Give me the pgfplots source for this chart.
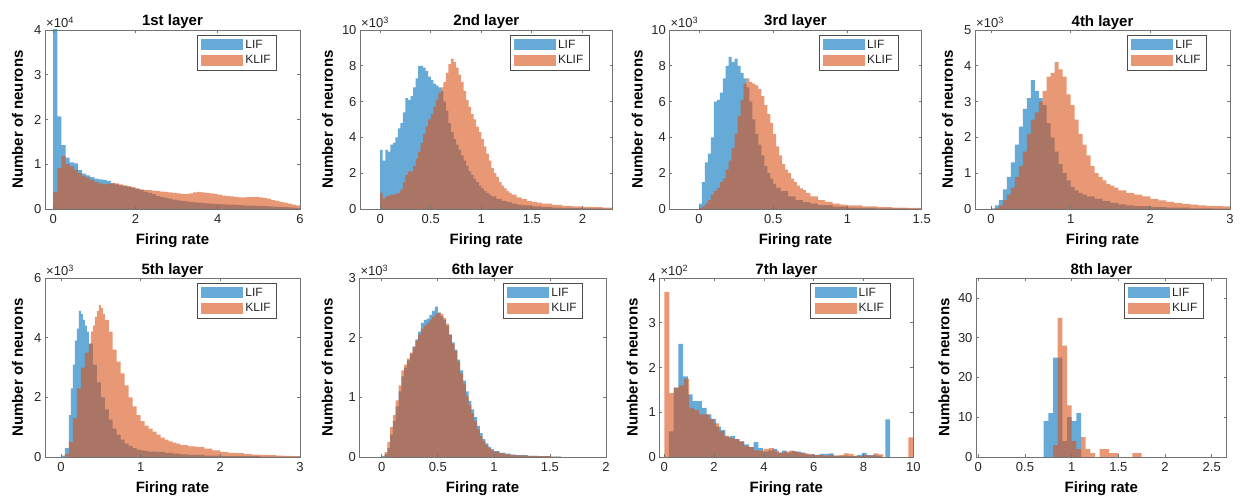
\documentclass[border=0pt]{standalone}
\usepackage{pgfplots}
\pgfplotsset{compat=1.18}
\usepackage{fontspec}
\setmainfont{Liberation Sans}
\definecolor{mblue}{rgb}{0,0.447,0.741}
\definecolor{morange}{rgb}{0.85,0.325,0.098}
\definecolor{axgray}{gray}{0.45}
\definecolor{txtgray}{gray}{0.15}
\pgfplotsset{
 hist/.style={
  scale only axis, axis on top, height=179pt,
  tick align=inside, major tick length=3pt,
  axis line style={axgray, line width=0.7pt},
  every tick/.append style={axgray, line width=0.7pt},
  tick label style={font=\fontsize{13}{15}\selectfont, text=txtgray},
  xticklabel style={yshift=-2pt},
  /pgf/number format/assume math mode=true,
  scaled x ticks=false, scaled y ticks=false,
  every axis title shift=0pt,
  title style={font=\bfseries\fontsize{15}{18}\selectfont, at={(axis description cs:0.5,1)}, anchor=base, yshift=4pt},
  xlabel style={font=\bfseries\fontsize{15}{18}\selectfont, at={(axis description cs:0.5,0)}, anchor=center, yshift=-32pt},
  ylabel style={font=\bfseries\fontsize{15}{18}\selectfont, anchor=center},
  xlabel={Firing rate}, ylabel={Number of neurons},
  legend style={at={(1,1)}, anchor=north east, xshift=-23pt, yshift=-5pt, draw=black!70, line width=0.6pt, font=\fontsize{12}{14}\selectfont, text=txtgray, inner xsep=4pt, inner ysep=2.5pt, row sep=2pt, fill=white},
  legend cell align=left,
  legend image code/.code={\fill[##1] (0pt,-5.5pt) rectangle (42pt,5.5pt);},
 },
 lif/.style={const plot, fill=mblue, fill opacity=0.6, draw=none},
 klif/.style={const plot, fill=morange, fill opacity=0.6, draw=none},
}
\tikzset{sc/.style={anchor=south west, inner sep=0pt, xshift=1pt, yshift=2pt, font=\fontsize{13}{15}\selectfont, text=txtgray}}
\begin{document}
\begin{tikzpicture}
\path[use as bounding box] (0,0) rectangle (1240pt,501pt);
% ---------- 1st layer
\begin{axis}[hist, name=p1, at={(45pt,292pt)}, anchor=south west, width=255pt,
 xmin=-0.2, xmax=6, ymin=0, ymax=40000, xtick={0,2,4,6},
 ytick={0,10000,20000,30000,40000}, yticklabels={0,1,2,3,4},
 title={1st layer}, ylabel style={at={(axis description cs:-0.108,0.5)}}]
\addplot[lif] coordinates {(0,60000)(0.1,20700)(0.2,14300)(0.3,11500)(0.4,10400)(0.5,10200)(0.6,8700)(0.7,7900)(0.8,7500)(0.9,7100)(1.0,6800)(1.1,6600)(1.2,6500)(1.3,6300)(1.4,5700)(1.5,5500)(1.6,5300)(1.7,5100)(1.8,4900)(1.9,4700)(2.0,4500)(2.1,4200)(2.2,3900)(2.3,3600)(2.4,3300)(2.5,2900)(2.6,2700)(2.7,2500)(2.8,2300)(2.9,2100)(3.0,1900)(3.1,1800)(3.2,1700)(3.3,1600)(3.4,1500)(3.5,1400)(3.6,1300)(3.7,1250)(3.8,1200)(3.9,1150)(4.0,1100)(4.1,1050)(4.2,1000)(4.3,950)(4.4,900)(4.5,850)(4.6,800)(4.7,780)(4.8,750)(4.9,720)(5.0,700)(5.1,650)(5.2,600)(5.3,550)(5.4,500)(5.5,450)(5.6,400)(5.7,350)(5.8,300)(5.9,250)(6.0,0)} \closedcycle;
\addplot[klif] coordinates {(0,3800)(0.1,9200)(0.2,11800)(0.3,10000)(0.4,9500)(0.5,8800)(0.6,8000)(0.7,7400)(0.8,7000)(0.9,6500)(1.0,6000)(1.1,5700)(1.2,5500)(1.3,5600)(1.4,5800)(1.5,5700)(1.6,5500)(1.7,5300)(1.8,5100)(1.9,4900)(2.0,4600)(2.1,4400)(2.2,4300)(2.3,4200)(2.4,4100)(2.5,4000)(2.6,3900)(2.7,3800)(2.8,3700)(2.9,3600)(3.0,3500)(3.1,3400)(3.2,3400)(3.3,3500)(3.4,3700)(3.5,3800)(3.6,3700)(3.7,3600)(3.8,3500)(3.9,3400)(4.0,3200)(4.1,3000)(4.2,2900)(4.3,2800)(4.4,2700)(4.5,2600)(4.6,2600)(4.7,2700)(4.8,2700)(4.9,2700)(5.0,2600)(5.1,2500)(5.2,2300)(5.3,2000)(5.4,1800)(5.5,1600)(5.6,1400)(5.7,1200)(5.8,1000)(5.9,800)(6.0,0)} \closedcycle;
\legend{LIF,KLIF}
\end{axis}
\node[sc] at (p1.north west) {×10\textsuperscript{4}};
% ---------- 2nd layer
\begin{axis}[hist, name=p2, at={(360pt,292pt)}, anchor=south west, width=252.7pt,
 xmin=-0.2, xmax=2.3, ymin=0, ymax=10000, xtick={0,0.5,1,1.5,2},
 ytick={0,2000,4000,6000,8000,10000}, yticklabels={0,2,4,6,8,10},
 title={2nd layer}, ylabel style={at={(axis description cs:-0.1286,0.5)}}]
\addplot[lif] coordinates {(0,3300)(0.025,2700)(0.05,3300)(0.075,3200)(0.1,3600)(0.125,3700)(0.15,4000)(0.175,4500)(0.2,4800)(0.225,5400)(0.25,6200)(0.275,6100)(0.3,6300)(0.325,6800)(0.35,7300)(0.375,8000)(0.4,8000)(0.425,7900)(0.45,7700)(0.475,7400)(0.5,7200)(0.525,7000)(0.55,6900)(0.575,6800)(0.6,6600)(0.625,6000)(0.65,5500)(0.675,4800)(0.7,4300)(0.725,3900)(0.75,3600)(0.775,3300)(0.8,3000)(0.825,2700)(0.85,2400)(0.875,2100)(0.9,1900)(0.925,1700)(0.95,1500)(0.975,1300)(1.0,1150)(1.025,1000)(1.05,900)(1.075,800)(1.1,700)(1.15,550)(1.2,450)(1.25,380)(1.3,300)(1.35,250)(1.4,200)(1.5,150)(1.6,110)(1.7,80)(1.8,60)(1.9,50)(2.0,40)(2.1,30)(2.2,20)(2.3,0)} \closedcycle;
\addplot[klif] coordinates {(0,900)(0.025,600)(0.05,700)(0.075,750)(0.1,800)(0.125,800)(0.15,850)(0.175,900)(0.2,1100)(0.225,1500)(0.25,1900)(0.275,2100)(0.3,2100)(0.325,2400)(0.35,2800)(0.375,3200)(0.4,3700)(0.425,4200)(0.45,4600)(0.475,5000)(0.5,5300)(0.525,5700)(0.55,6100)(0.575,6500)(0.6,6800)(0.625,7100)(0.65,7600)(0.675,8100)(0.7,8400)(0.725,8200)(0.75,7900)(0.775,7500)(0.8,7100)(0.825,6600)(0.85,6100)(0.875,5700)(0.9,5300)(0.925,5000)(0.95,4600)(0.975,4300)(1.0,3900)(1.025,3500)(1.05,3100)(1.075,2700)(1.1,2300)(1.125,2000)(1.15,1800)(1.175,1500)(1.2,1300)(1.225,1150)(1.25,1000)(1.275,900)(1.3,800)(1.35,650)(1.4,550)(1.45,450)(1.5,400)(1.55,350)(1.6,300)(1.7,230)(1.8,180)(1.9,150)(2.0,120)(2.1,100)(2.2,80)(2.3,0)} \closedcycle;
\legend{LIF,KLIF}
\end{axis}
\node[sc] at (p2.north west) {×10\textsuperscript{3}};
% ---------- 3rd layer
\begin{axis}[hist, name=p3, at={(669.3pt,292pt)}, anchor=south west, width=252.4pt,
 xmin=-0.2, xmax=1.5, ymin=0, ymax=10000, xtick={0,0.5,1,1.5},
 ytick={0,2000,4000,6000,8000,10000}, yticklabels={0,2,4,6,8,10},
 title={3rd layer}, ylabel style={at={(axis description cs:-0.1268,0.5)}}]
\addplot[lif] coordinates {(0,300)(0.02,1500)(0.04,2600)(0.06,3100)(0.08,4000)(0.1,6000)(0.12,6100)(0.14,6500)(0.16,7300)(0.18,8000)(0.2,8500)(0.22,8200)(0.24,8400)(0.26,8000)(0.28,7600)(0.3,7300)(0.32,6800)(0.34,6000)(0.36,5000)(0.38,4200)(0.4,3600)(0.42,3000)(0.44,2400)(0.46,2000)(0.48,1700)(0.5,1400)(0.52,1200)(0.55,1000)(0.6,700)(0.65,500)(0.7,380)(0.75,300)(0.8,220)(0.9,130)(1.0,80)(1.1,60)(1.2,40)(1.3,30)(1.4,20)(1.5,0)} \closedcycle;
\addplot[klif] coordinates {(0,50)(0.02,150)(0.04,300)(0.06,500)(0.08,800)(0.1,1000)(0.12,1200)(0.14,1500)(0.16,1700)(0.18,2200)(0.2,2700)(0.22,3400)(0.24,4200)(0.26,5200)(0.28,6100)(0.3,7000)(0.32,7300)(0.34,7100)(0.36,7000)(0.38,6900)(0.4,6700)(0.42,6300)(0.44,5800)(0.46,5300)(0.48,4800)(0.5,4200)(0.52,3500)(0.54,3000)(0.56,2500)(0.58,2200)(0.6,2000)(0.62,1700)(0.64,1500)(0.66,1300)(0.68,1150)(0.7,1050)(0.72,900)(0.75,700)(0.8,500)(0.85,400)(0.9,300)(0.95,250)(1.0,200)(1.1,150)(1.2,110)(1.3,80)(1.4,60)(1.5,0)} \closedcycle;
\legend{LIF,KLIF}
\end{axis}
\node[sc] at (p3.north west) {×10\textsuperscript{3}};
% ---------- 4th layer
\begin{axis}[hist, name=p4, at={(975pt,292pt)}, anchor=south west, width=255pt,
 xmin=-0.2, xmax=3, ymin=0, ymax=5000, xtick={0,1,2,3},
 ytick={0,1000,2000,3000,4000,5000}, yticklabels={0,1,2,3,4,5},
 title={4th layer}, ylabel style={at={(axis description cs:-0.108,0.5)}}]
\addplot[lif] coordinates {(0,20)(0.05,100)(0.1,250)(0.15,550)(0.2,900)(0.25,1300)(0.3,1800)(0.35,2300)(0.4,2800)(0.45,3100)(0.5,3600)(0.55,3300)(0.6,3100)(0.65,2900)(0.7,2400)(0.75,2000)(0.8,1600)(0.85,1250)(0.9,1000)(0.95,800)(1.0,620)(1.05,520)(1.1,450)(1.15,400)(1.2,350)(1.3,280)(1.4,220)(1.5,170)(1.6,130)(1.7,100)(1.8,80)(2.0,50)(2.2,35)(2.5,20)(2.8,10)(3.0,0)} \closedcycle;
\addplot[klif] coordinates {(0.05,30)(0.1,100)(0.15,250)(0.2,400)(0.25,600)(0.3,900)(0.35,1200)(0.4,1600)(0.45,2100)(0.5,2500)(0.55,2700)(0.6,3000)(0.65,3300)(0.7,3700)(0.75,3800)(0.8,4100)(0.85,3900)(0.9,3700)(0.95,3200)(1.0,2900)(1.05,2500)(1.1,2100)(1.15,1800)(1.2,1500)(1.25,1200)(1.3,1000)(1.35,900)(1.4,800)(1.45,700)(1.5,650)(1.55,600)(1.6,520)(1.7,450)(1.8,400)(1.9,350)(2.0,280)(2.1,240)(2.2,200)(2.3,170)(2.4,140)(2.5,120)(2.6,100)(2.7,90)(2.8,80)(2.9,70)(3.0,0)} \closedcycle;
\legend{LIF,KLIF}
\end{axis}
\node[sc] at (p4.north west) {×10\textsuperscript{3}};
% ---------- 5th layer
\begin{axis}[hist, name=p5, at={(45pt,44pt)}, anchor=south west, width=255pt,
 xmin=-0.2, xmax=3, ymin=0, ymax=6000, xtick={0,1,2,3},
 ytick={0,2000,4000,6000}, yticklabels={0,2,4,6},
 title={5th layer}, ylabel style={at={(axis description cs:-0.108,0.5)}}]
\addplot[lif] coordinates {(0,50)(0.05,300)(0.1,1400)(0.125,2300)(0.15,3100)(0.175,3900)(0.2,4300)(0.225,4900)(0.25,4800)(0.275,4600)(0.3,4400)(0.325,4200)(0.35,3800)(0.4,3100)(0.45,2500)(0.5,2000)(0.55,1600)(0.6,1250)(0.65,950)(0.7,750)(0.75,580)(0.8,450)(0.85,370)(0.9,300)(0.95,250)(1.0,220)(1.05,200)(1.1,180)(1.2,170)(1.3,140)(1.4,110)(1.5,90)(1.6,70)(1.8,50)(2.0,30)(2.5,10)(3.0,0)} \closedcycle;
\addplot[klif] coordinates {(0.05,100)(0.1,500)(0.15,1300)(0.2,2300)(0.25,3000)(0.3,3500)(0.35,3800)(0.375,4200)(0.4,4400)(0.425,4700)(0.45,4900)(0.475,5100)(0.5,5000)(0.525,4800)(0.55,4600)(0.6,4200)(0.65,3600)(0.7,3200)(0.75,2800)(0.8,2400)(0.85,2000)(0.9,1700)(0.95,1400)(1.0,1200)(1.05,1050)(1.1,950)(1.15,850)(1.2,750)(1.25,650)(1.3,580)(1.35,520)(1.4,480)(1.45,450)(1.5,400)(1.6,360)(1.7,340)(1.8,280)(1.9,220)(2.0,170)(2.1,140)(2.2,130)(2.3,100)(2.4,80)(2.5,70)(2.6,60)(2.7,50)(2.8,40)(2.9,30)(3.0,0)} \closedcycle;
\legend{LIF,KLIF}
\end{axis}
\node[sc] at (p5.north west) {×10\textsuperscript{3}};
% ---------- 6th layer
\begin{axis}[hist, name=p6, at={(359.3pt,44pt)}, anchor=south west, width=246.7pt,
 xmin=-0.2, xmax=2, ymin=0, ymax=3000, xtick={0,0.5,1,1.5,2},
 ytick={0,1000,2000,3000}, yticklabels={0,1,2,3},
 title={6th layer}, ylabel style={at={(axis description cs:-0.1297,0.5)}}]
\addplot[lif] coordinates {(0,20)(0.025,50)(0.05,150)(0.075,380)(0.1,600)(0.125,850)(0.15,1100)(0.175,1350)(0.2,1500)(0.225,1620)(0.25,1730)(0.275,1850)(0.3,1970)(0.325,2100)(0.35,2250)(0.375,2300)(0.4,2320)(0.425,2380)(0.45,2450)(0.475,2520)(0.5,2420)(0.525,2360)(0.55,2300)(0.575,2200)(0.6,2050)(0.625,1920)(0.65,1800)(0.675,1630)(0.7,1450)(0.725,1280)(0.75,1100)(0.775,940)(0.8,800)(0.825,670)(0.85,520)(0.875,400)(0.9,300)(0.925,230)(0.95,170)(0.975,130)(1.0,100)(1.05,75)(1.1,55)(1.15,40)(1.2,30)(1.3,20)(1.4,15)(1.5,8)(1.6,0)} \closedcycle;
\addplot[klif] coordinates {(0.025,80)(0.05,250)(0.075,500)(0.1,700)(0.125,950)(0.15,1200)(0.175,1450)(0.2,1550)(0.225,1650)(0.25,1750)(0.275,1850)(0.3,1950)(0.325,2050)(0.35,2150)(0.375,2200)(0.4,2250)(0.425,2300)(0.45,2350)(0.475,2400)(0.5,2420)(0.525,2400)(0.55,2330)(0.575,2230)(0.6,2050)(0.625,1900)(0.65,1780)(0.675,1600)(0.7,1400)(0.725,1230)(0.75,1030)(0.775,870)(0.8,730)(0.825,600)(0.85,460)(0.875,350)(0.9,270)(0.925,200)(0.95,150)(0.975,110)(1.0,90)(1.05,60)(1.1,45)(1.15,35)(1.2,28)(1.3,20)(1.4,15)(1.5,8)(1.6,0)} \closedcycle;
\legend{LIF,KLIF}
\end{axis}
\node[sc] at (p6.north west) {×10\textsuperscript{3}};
% ---------- 7th layer
\begin{axis}[hist, name=p7, at={(659.3pt,44pt)}, anchor=south west, width=254pt,
 xmin=-0.2, xmax=10, ymin=0, ymax=400, xtick={0,2,4,6,8,10},
 ytick={0,100,200,300,400}, yticklabels={0,1,2,3,4},
 title={7th layer}, ylabel style={at={(axis description cs:-0.1063,0.5)}}]
\addplot[lif] coordinates {(0,0)(0.189,57)(0.378,155)(0.567,253)(0.756,180)(0.945,140)(1.134,125)(1.323,125)(1.512,110)(1.701,95)(1.89,85)(2.079,68)(2.268,60)(2.457,45)(2.646,47)(2.835,40)(3.024,35)(3.213,28)(3.402,22)(3.591,33)(3.78,20)(3.969,12)(4.158,15)(4.347,18)(4.536,10)(4.725,14)(4.914,10)(5.103,13)(5.292,12)(5.481,10)(5.67,6)(5.859,6)(6.048,5)(6.237,7)(6.426,7)(6.615,8)(6.804,3)(6.993,2)(7.182,3)(7.371,2)(7.56,2)(7.749,5)(7.938,9)(8.127,4)(8.316,4)(8.505,3)(8.694,0)(8.883,84)(9.072,0)} \closedcycle;
\addplot[klif] coordinates {(0,369)(0.2,143)(0.4,155)(0.6,160)(0.8,175)(1.0,110)(1.2,105)(1.4,95)(1.6,95)(1.8,85)(2.0,75)(2.2,58)(2.4,48)(2.6,42)(2.8,40)(3.0,35)(3.2,25)(3.4,22)(3.6,15)(3.8,14)(4.0,18)(4.2,20)(4.4,14)(4.6,10)(4.8,12)(5.0,14)(5.2,12)(5.4,10)(5.6,8)(5.8,6)(6.0,4)(6.2,5)(6.4,3)(6.6,5)(6.8,3)(7.0,4)(7.2,8)(7.4,7)(7.6,3)(7.8,2)(8.0,5)(8.2,3)(8.4,8)(8.6,6)(8.8,0)(9.8,44)(10.0,0)} \closedcycle;
\legend{LIF,KLIF}
\end{axis}
\node[sc] at (p7.north west) {×10\textsuperscript{2}};
% ---------- 8th layer
\begin{axis}[hist, name=p8, at={(976pt,44pt)}, anchor=south west, width=250.7pt,
 xmin=-0.025, xmax=2.66, ymin=0, ymax=45, xtick={0,0.5,1,1.5,2,2.5},
 ytick={0,10,20,30,40},
 title={8th layer}, ylabel style={at={(axis description cs:-0.1276,0.5)}}]
\addplot[lif] coordinates {(0.7,9)(0.75,11)(0.8,25)(0.85,25)(0.9,4)(0.95,10)(1.0,9)(1.05,11)(1.1,0)} \closedcycle;
\addplot[klif] coordinates {(0.8,3)(0.85,35)(0.9,28)(0.95,13)(1.0,4)(1.05,2)(1.1,5)(1.15,2)(1.2,1)(1.25,0)(1.3,2)(1.35,2)(1.4,1)(1.45,1)(1.5,0)(1.65,1)(1.7,1)(1.75,0)} \closedcycle;
\legend{LIF,KLIF}
\end{axis}
\end{tikzpicture}
\end{document}
